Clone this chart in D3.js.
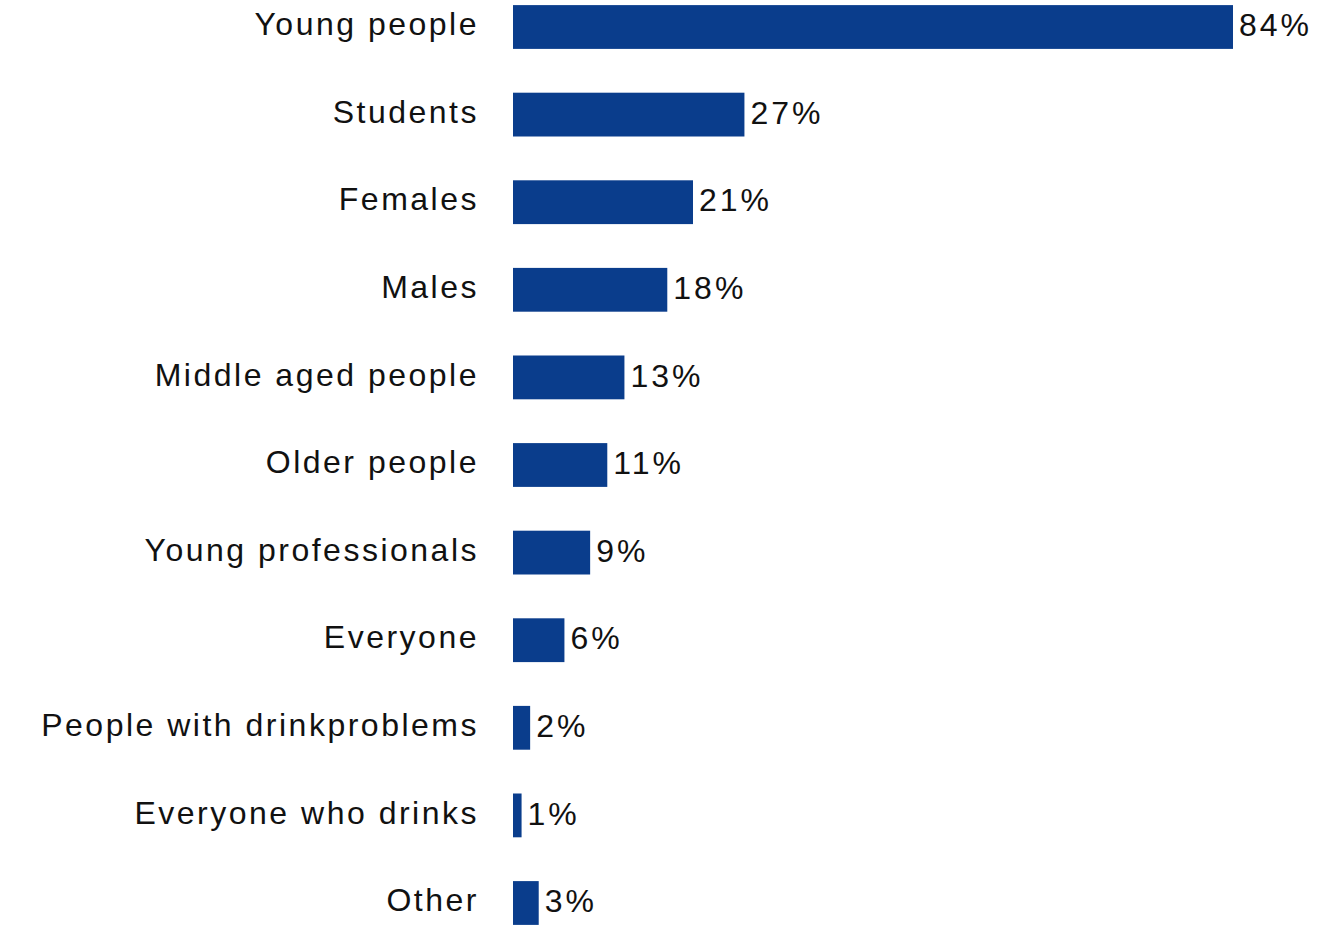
<!DOCTYPE html>
<html>
<head>
<meta charset="utf-8">
<script src="https://cdn.jsdelivr.net/npm/d3@7/dist/d3.min.js"></script>
<style>
  html, body { margin: 0; padding: 0; background: #ffffff; }
  svg { display: block; }
  text { font-family: "Liberation Sans", Arial, sans-serif; fill: #111111; }
</style>
</head>
<body>
<svg id="chart" width="1319" height="925"></svg>
<script>
const categories = [
  "Young people", "Students", "Females", "Males", "Middle aged people",
  "Older people", "Young professionals", "Everyone",
  "People with drinkproblems", "Everyone who drinks", "Other"
];
const values = [84, 27, 21, 18, 13, 11, 9, 6, 2, 1, 3];
const valueLabels = ["84%", "27%", "21%", "18%", "13%", "11%", "9%", "6%", "2%", "1%", "3%"];

const data = categories.map((c, i) => ({ cat: c, val: values[i], label: valueLabels[i] }));

const svg = d3.select("#chart");

const x = d3.scaleLinear().domain([0, 84]).range([513, 1233]);
const step = 87.6;
const y = d3.scaleBand()
  .domain(categories)
  .range([27 - step / 2, 27 - step / 2 + step * categories.length])
  .paddingInner(0.5)
  .paddingOuter(0.25);

const barColor = "#0a3d8c";

svg.append("g").selectAll("rect")
  .data(data).join("rect")
  .attr("x", x(0))
  .attr("y", d => y(d.cat))
  .attr("width", d => x(d.val) - x(0))
  .attr("height", y.bandwidth())
  .attr("fill", barColor);

// category labels (axis-like, right aligned)
const yAxis = d3.axisLeft(y).tickSize(0).tickPadding(0);
const gAxis = svg.append("g").attr("transform", "translate(479,-2)").call(yAxis);
gAxis.select(".domain").remove();
gAxis.selectAll("text")
  .attr("font-size", 32)
  .attr("letter-spacing", "2.5px")
  .style("font-family", '"Liberation Sans", Arial, sans-serif')
  .attr("fill", "#111");

// value labels
svg.append("g").selectAll("text")
  .data(data).join("text")
  .attr("x", d => x(d.val) + 6)
  .attr("y", d => y(d.cat) + y.bandwidth() / 2 - 2)
  .attr("dy", "0.35em")
  .attr("font-size", 32)
  .attr("letter-spacing", "3px")
  .text(d => d.label);
</script>
</body>
</html>
